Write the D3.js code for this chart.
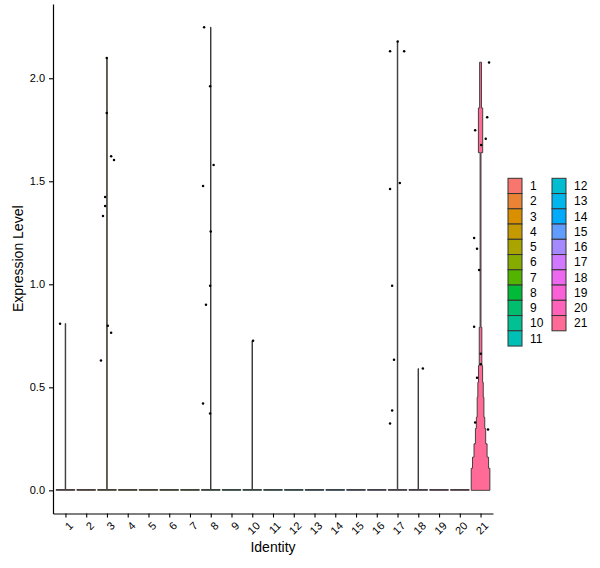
<!DOCTYPE html>
<html>
<head>
<meta charset="utf-8">
<script src="https://cdn.jsdelivr.net/npm/d3@7"></script>
<style>
  body { margin: 0; background: #fff; }
  text { font-family: "Liberation Sans", Arial, sans-serif; }
</style>
</head>
<body>
<div id="plot"></div>
<script>
const WIDTH = 600;
const HEIGHT = 568;

// identities on the x axis
const identities = d3.range(1, 22).map(String);

// top of each violin (max expression per identity, 0 = all zero)
const maxValues = [0.81, 0, 2.098, 0, 0, 0, 0, 2.248, 0, 0.726, 0,
                   0, 0, 0, 0, 0, 2.179, 0.591, 0, 0, 2.078];

// identity 21 has a real violin: [from, to, relative width]
const violin21 = [
    [0.000, 0.107, 1.00],
    [0.107, 0.161, 0.86],
    [0.161, 0.226, 0.70],
    [0.226, 0.300, 0.55],
    [0.300, 0.355, 0.45],
    [0.355, 0.452, 0.36],
    [0.452, 0.524, 0.29],
    [0.524, 0.605, 0.22],
    [0.605, 0.791, 0.14],
    [0.791, 1.639, 0.05],
    [1.639, 1.856, 0.23],
    [1.856, 2.078, 0.10]
];

// non-zero cells: identity, expression, jitter (fraction of band)
const pointIdent = ['1',
    '3', '3', '3', '3', '3', '3', '3', '3', '3', '3',
    '8', '8', '8', '8', '8', '8', '8', '8', '8',
    '10',
    '17', '17', '17', '17', '17', '17', '17', '17', '17',
    '18',
    '21', '21', '21', '21', '21', '21', '21', '21', '21', '21', '21', '21', '21', '21'];
const pointValue = [0.809,
    2.098, 1.831, 1.622, 1.603, 1.424, 1.380, 1.332, 0.799, 0.765, 0.630,
    2.248, 1.961, 1.579, 1.477, 1.256, 0.993, 0.901, 0.421, 0.373,
    0.726,
    2.179, 2.131, 2.131, 1.492, 1.462, 0.993, 0.634, 0.387, 0.324,
    0.591,
    2.077, 1.811, 1.748, 1.706, 1.676, 1.225, 1.172, 1.070, 0.794, 0.663, 0.612, 0.547, 0.329, 0.295];
const pointJitter = [-0.26,
    -0.01, -0.01, 0.20, 0.34, -0.09, -0.09, -0.19, 0.04, 0.20, -0.29,
    -0.32, -0.03, 0.14, -0.37, 0.00, -0.03, -0.23, -0.37, -0.03,
    0.04,
    0.01, -0.36, 0.32, 0.11, -0.36, -0.26, -0.17, -0.26, -0.36,
    0.22,
    0.41, 0.32, -0.26, 0.25, 0.03, -0.31, -0.17, -0.07, -0.31, 0.01, 0.01, -0.17, -0.26, 0.36];

const yTicks = [0, 0.5, 1.0, 1.5, 2.0];


// R's hcl() (polar LUV) -> hex, as used by ggplot's hue palette
function hcl(h, c, l) {
    const WX = 95.047, WY = 100.0, WZ = 108.883;
    const wu = 4 * WX / (WX + 15 * WY + 3 * WZ);
    const wv = 9 * WY / (WX + 15 * WY + 3 * WZ);
    let hr = h * Math.PI / 180;
    let U = c * Math.cos(hr), V = c * Math.sin(hr);
    let Y = WY * (l > 7.999592 ? Math.pow((l + 16) / 116, 3) : l / 903.3);
    let u = U / (13 * l) + wu;
    let v = V / (13 * l) + wv;
    let X = 9.0 * Y * u / (4 * v);
    let Z = -X / 3 - 5 * Y + 3 * Y / v;
    let g = t => {
        t = t > 0.00304 ? 1.055 * Math.pow(t, 1 / 2.4) - 0.055 : 12.92 * t;
        return Math.round(255 * Math.max(0, Math.min(1, t)));
    };
    return d3.rgb(
        g((3.240479 * X - 1.537150 * Y - 0.498535 * Z) / WY),
        g((-0.969256 * X + 1.875992 * Y + 0.041556 * Z) / WY),
        g((0.055648 * X - 0.204043 * Y + 1.057311 * Z) / WY)
    ).formatHex();
}

let n = identities.length;
let colors = identities.map((d, i) => hcl(15 + i * 360 / n, 100, 65));

var svg = d3.select('#plot')
    .append('svg')
    .attr('width', WIDTH)
    .attr('height', HEIGHT);

const panel = { left: 53, right: 493, top: 4, bottom: 513.5 };

let x = d3.scalePoint()
    .domain(identities)
    .range([panel.left, panel.right])
    .padding(0.6);

let yMax = d3.max(maxValues);
let yPad = 0.05 * yMax;
let y = d3.scaleLinear()
    .domain([-yPad, yMax + yPad])
    .range([panel.bottom, panel.top]);

let halfWidth = 0.45 * x.step();

// violins
function violinSegments(i) {
    if (identities[i] == '21') return violin21;
    let segs = [[0, 0.004, 1.0]];
    if (maxValues[i] > 0) segs.push([0.004, maxValues[i], 0.025]);
    return segs;
}

let area = d3.area()
    .y(d => y(d[0]))
    .x0(d => -d[1] * halfWidth)
    .x1(d => d[1] * halfWidth);

identities.forEach((id, i) => {
    let pts = [];
    violinSegments(i).forEach(s => {
        pts.push([s[0], s[2]]);
        pts.push([s[1], s[2]]);
    });
    svg.append('path')
        .attr('transform', `translate(${x(id)},0)`)
        .attr('d', area(pts))
        .attr('fill', colors[i])
        .attr('stroke', '#333')
        .attr('stroke-width', 0.9);
});

// jittered points
svg.append('g')
    .selectAll('circle')
    .data(pointValue.map((v, i) => ({ id: pointIdent[i], v: v, j: pointJitter[i] })))
    .enter()
    .append('circle')
    .attr('cx', d => x(d.id) + d.j * x.step())
    .attr('cy', d => y(d.v))
    .attr('r', 1.25)
    .attr('fill', 'black');

// axes
let yAxis = svg.append('g')
    .attr('transform', `translate(${panel.left},0)`)
    .call(d3.axisLeft(y).tickValues(yTicks).tickFormat(d3.format('.1f'))
        .tickSize(4).tickSizeOuter(0).tickPadding(4));

let xAxis = svg.append('g')
    .attr('transform', `translate(0,${panel.bottom})`)
    .call(d3.axisBottom(x).tickSize(4).tickSizeOuter(0));

xAxis.selectAll('text')
    .attr('x', 8)
    .attr('y', 13)
    .attr('dy', null)
    .attr('text-anchor', 'end')
    .attr('transform', 'rotate(-45, 8, 13)');

[xAxis, yAxis].forEach(a => {
    a.select('.domain').attr('stroke', 'black').attr('stroke-width', 1.2);
    a.selectAll('.tick line').attr('stroke', 'black').attr('stroke-width', 1.1);
    a.selectAll('text')
        .attr('fill', 'black')
        .style('font-size', '11px')
        .style('font-family', '"Liberation Sans", Arial, sans-serif');
});

// axis titles
svg.append('text')
    .attr('x', (panel.left + panel.right) / 2)
    .attr('y', 552)
    .attr('text-anchor', 'middle')
    .style('font-size', '14px')
    .text('Identity');

svg.append('text')
    .attr('transform', `translate(23,${(panel.top + panel.bottom) / 2}) rotate(-90)`)
    .attr('text-anchor', 'middle')
    .style('font-size', '14px')
    .text('Expression Level');

// legend, two columns
const legendTop = 178.3;
const keyH = 15.25;
let legend = svg.append('g');
identities.forEach((id, i) => {
    let col = i < 11 ? 0 : 1;
    let row = col == 0 ? i : i - 11;
    let gx = 508 + col * 44;
    let gy = legendTop + row * keyH;
    legend.append('rect')
        .attr('x', gx)
        .attr('y', gy)
        .attr('width', 14)
        .attr('height', keyH)
        .attr('fill', colors[i])
        .attr('stroke', '#333')
        .attr('stroke-width', 1);
    legend.append('text')
        .attr('x', gx + 22)
        .attr('y', gy + keyH / 2)
        .attr('dy', '0.36em')
        .style('font-size', '12px')
        .text(id);
});
</script>
</body>
</html>
